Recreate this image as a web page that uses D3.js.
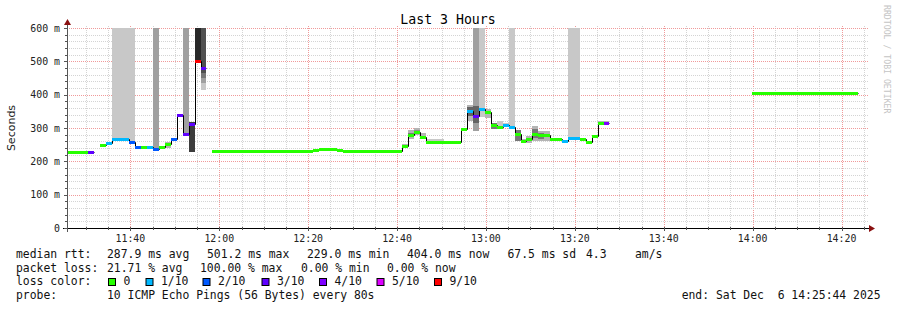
<!DOCTYPE html>
<html><head><meta charset="utf-8">
<script src="https://cdn.jsdelivr.net/npm/d3@7"></script>
<style>
body{margin:0;background:#fff}
text{font-family:"DejaVu Sans Mono",monospace;white-space:pre}
</style>
</head><body>
<svg id="chart" width="897" height="310"></svg>
<script>
// ---------- data ----------
const title = "Last 3 Hours";
const yLabel = "Seconds";
const rangeStart = "2025-12-06 11:25:44";
const rangeEnd = "2025-12-06 14:25:44";
const firstStep = "2025-12-06 11:25:07";
const stepSeconds = 80;

// median rtt per 80 s step (ms); null = no data
const median = [
  229,229,229,229,229, null,
  249,254,266,266,266,257,
  242,242,242,238,242,252,268,
  339,281,312,501,479, null,
  230,230,230,230,230,230,230,230,230,230,230,230,230,230,230,230,230,
  233, 236,236,236, 233,
  231,231,231,231,231,231,231,231,231,231,
  246,279,288,274,
  258,258,258,258,258,258,
  296,352,335,356,348,
  308,304,310,302,
  282,262,268,281,278,278,267,267,
  261,271,271,267,257,275,316,316,
  null,null,null,null,null,null,null,null,null,null,null,null,
  null,null,null,null,null,null,null,null,null,null,null,null,
  404,404,404,404,404,404,404,404,404,404,404,404,404,404,404,404,404,404,
  null,null
];
// lost pings (of 10) per step
const loss = [
  0,0,0,0,3, 10,
  0,1,1,1,1,2,
  2,0,1,2,0,0,2,
  3,3,3,9,3, 10,
  0,0,0,0,0,0,0,0,0,0,0,0,0,0,0,0,0,
  0, 0,0,0, 0,
  0,0,0,0,0,0,0,0,0,0,
  0,0,0,0,
  0,0,0,0,0,0,
  0,1,3,1,0,
  0,0,1,1,
  0,0,0,0,0,0,0,0,
  1,1,1,0,0,0,0,4,
  null,null,null,null,null,null,null,null,null,null,null,null,
  null,null,null,null,null,null,null,null,null,null,null,null,
  0,0,0,0,0,0,0,0,0,0,0,0,0,0,0,0,0,0,
  null,null
];
// smoke bands: [step, low ms, high ms, pings in band]
const smoke = [
  [6,244,252,5],
  [8,263,650,2],[9,263,650,2],[10,263,650,2],[11,262,650,2],
  [15,236,650,4],
  [17,240,258,3],
  [20,278,650,4],
  [21,229,319,9],
  [22,495,650,10],
  [23,414,434,2],[23,434,449,4],[23,449,465,6],[23,465,650,8],
  [57,241,251,3],
  [58,266,294,3],[58,272,286,6],
  [59,278,300,3],[59,283,293,5],
  [60,266,286,3],
  [61,256,268,2],[62,256,268,2],[63,256,266,2],
  [67,290,300,3],
  [68,322,370,3],[68,335,362,7],
  [69,292,650,4],[69,315,365,7],
  [70,334,650,2],
  [71,330,356,3],
  [72,298,316,6],
  [73,298,322,2],
  [74,304,316,2],
  [75,296,650,2],
  [76,262,294,6],
  [77,254,266,3],
  [78,256,276,3],
  [79,262,306,3],[79,270,298,6],
  [80,262,292,3],[80,268,285,6],
  [81,262,292,3],
  [85,266,650,2],[86,266,650,2],
  [90,308,322,3],[91,308,322,3]
];
const lossLevels = [0,1,2,3,4,5,9];
const lossLabels = ["0","1/10","2/10","3/10","4/10","5/10","9/10"];
const lossColors = ["#26ff00","#00b8ff","#0059ff","#5e00ff","#7e00ff","#dd00ff","#ff0000"];
const yTickValues = [0,100,200,300,400,500,600];
const statsRtt = ["median rtt:","287.9 ms avg","501.2 ms max","229.0 ms min","404.0 ms now","67.5 ms sd","4.3","am/s"];
const statsLoss = ["packet loss:","21.71 % avg","100.00 % max","0.00 % min","0.00 % now"];
const probeText = ["probe:","10 ICMP Echo Pings (56 Bytes) every 80s"];
const endText = "end: Sat Dec  6 14:25:44 2025";
const watermark = "RRDTOOL / TOBI OETIKER";

// ---------- layout ----------
const L = 67, R = 867, T = 28, B = 228;
const parse = d3.timeParse("%Y-%m-%d %H:%M:%S");
const t0 = parse(rangeStart), t1 = parse(rangeEnd), s0 = parse(firstStep);
const x = d3.scaleTime().domain([t0, t1]).range([L, R]);
const y = d3.scaleLinear().domain([0, 600]).range([B, T]);
const stepTime = k => new Date(s0.getTime() + k * stepSeconds * 1000);
const sx = k => Math.round(x(stepTime(k)));
const lossColor = l => {
  let c = lossColors[0];
  lossLevels.forEach((lv, i) => { if (l >= lv) c = lossColors[i]; });
  return c;
};
const smokeShade = d3.scaleLinear().domain([2, 10]).range(["#c8c8c8", "#282828"]).clamp(true);

const svg = d3.select("#chart");
svg.append("rect").attr("width", 897).attr("height", 310).attr("fill", "#fff");
svg.append("defs").append("clipPath").attr("id", "plot")
  .append("rect").attr("x", L + 1).attr("y", T).attr("width", R - L - 1).attr("height", B - T);

// ---------- grid ----------
const grid = svg.append("g");
const minorX = d3.timeMinute.every(5).range(t0, t1);
const majorX = d3.timeMinute.every(20).range(t0, t1);
grid.selectAll(".gx").data(minorX).join("line")
  .attr("x1", d => Math.round(x(d)) + 0.5).attr("x2", d => Math.round(x(d)) + 0.5)
  .attr("y1", T - 2).attr("y2", B)
  .attr("stroke", d => d.getMinutes() % 20 === 0 ? "#f09a9a" : "#d4d4d4")
  .attr("stroke-dasharray", "1,1");
const minorY = d3.range(20, 620, 20);
grid.selectAll(".gy").data(minorY).join("line")
  .attr("x1", L).attr("x2", R + 2)
  .attr("y1", d => Math.round(y(d)) + 0.5).attr("y2", d => Math.round(y(d)) + 0.5)
  .attr("stroke", d => d % 100 === 0 ? "#f09a9a" : "#d4d4d4")
  .attr("stroke-dasharray", "1,1");

// ---------- smoke ----------
const plot = svg.append("g").attr("clip-path", "url(#plot)");
plot.selectAll(".smoke").data(smoke).join("rect")
  .attr("shape-rendering", "crispEdges")
  .attr("x", d => sx(d[0]))
  .attr("width", d => sx(d[0] + 1) - sx(d[0]))
  .attr("y", d => Math.round(y(d[2])))
  .attr("height", d => Math.round(y(d[1])) - Math.round(y(d[2])))
  .attr("fill", d => smokeShade(d[3]));

// ---------- median line ----------
const pts = [];
median.forEach((v, k) => {
  if (v == null) { pts.push(null); return; }
  pts.push([sx(k) + 0.5, Math.round(y(v)) + 0.5]);
  pts.push([sx(k + 1) + 0.5, Math.round(y(v)) + 0.5]);
});
const line = d3.line().defined(d => d != null).x(d => d[0]).y(d => d[1]);
plot.append("path").attr("d", line(pts)).attr("fill", "none")
  .attr("stroke", "#000").attr("stroke-width", 1);
const segs = median.map((v, k) => ({k, v, l: loss[k]})).filter(d => d.v != null);
plot.selectAll(".seg").data(segs).join("rect")
  .attr("shape-rendering", "crispEdges")
  .attr("x", d => sx(d.k))
  .attr("width", d => sx(d.k + 1) - sx(d.k))
  .attr("y", d => Math.round(y(d.v)) - 1).attr("height", 3)
  .attr("fill", d => lossColor(d.l));

// ---------- axes ----------
const ax = svg.append("g");
ax.append("line").attr("x1", L - 4).attr("x2", R + 2).attr("y1", B + 0.5).attr("y2", B + 0.5)
  .attr("stroke", "#000");
ax.append("line").attr("x1", L + 0.5).attr("x2", L + 0.5).attr("y1", B + 4).attr("y2", T - 4)
  .attr("stroke", "#555");
ax.append("path").attr("d", `M${L - 3},${T - 3}L${L + 4},${T - 3}L${L + 0.5},${T - 9}Z`).attr("fill", "#8a1010");
ax.append("path").attr("d", `M${R + 2},${B - 3}L${R + 2},${B + 4}L${R + 8},${B + 0.5}Z`).attr("fill", "#8a1010");
ax.selectAll(".tx").data(minorX).join("line")
  .attr("x1", d => Math.round(x(d)) + 0.5).attr("x2", d => Math.round(x(d)) + 0.5)
  .attr("y1", B - 1).attr("y2", d => d.getMinutes() % 20 === 0 ? B + 3 : B + 2)
  .attr("stroke", "#555");
ax.selectAll(".ty").data(minorY.concat([0])).join("line")
  .attr("x1", d => d % 100 === 0 ? L - 3 : L - 2).attr("x2", L + 1)
  .attr("y1", d => Math.round(y(d)) + 0.5).attr("y2", d => Math.round(y(d)) + 0.5)
  .attr("stroke", "#555");

const fmt = d3.timeFormat("%H:%M");
ax.selectAll(".xl").data(majorX).join("text")
  .attr("x", d => x(d)).attr("y", 241.5).attr("text-anchor", "middle")
  .attr("font-size", "9.9px").attr("fill", "#222").text(d => fmt(d));
ax.selectAll(".yl").data(yTickValues).join("text")
  .attr("x", 60).attr("y", d => y(d) + 3.6).attr("text-anchor", "end")
  .attr("font-size", "9.9px").attr("fill", "#222").text(d => d === 0 ? "0" : d + " m");

// ---------- titles ----------
svg.append("text").attr("x", 448).attr("y", 23.5).attr("text-anchor", "middle")
  .attr("font-size", "13.2px").attr("fill", "#000").text(title);
svg.append("text").attr("transform", "translate(15,128) rotate(-90)").attr("text-anchor", "middle")
  .style("font-family", "'DejaVu Sans',sans-serif").attr("font-size", "11px").attr("fill", "#222").text(yLabel);
svg.append("text").attr("transform", "translate(884,5) rotate(90)")
  .attr("font-size", "8.2px").attr("fill", "#c4c4c4").text(watermark);

// ---------- legend ----------
const lg = svg.append("g").attr("font-size", "11.4px").attr("fill", "#111");
const rttX = [16, 107, 207, 307, 407, 507.5, 586, 635];
statsRtt.forEach((s, i) => lg.append("text").attr("x", rttX[i]).attr("y", 258).text(s));
const lossX = [16, 107, 200, 301, 387];
statsLoss.forEach((s, i) => lg.append("text").attr("x", lossX[i]).attr("y", 271.5).text(s));
lg.append("text").attr("x", 16).attr("y", 285.3).text("loss color:");
const swX = [108.5, 146, 203, 262, 319.5, 377, 434.5];
lossLabels.forEach((s, i) => {
  lg.append("rect").attr("x", swX[i]).attr("y", 278.5).attr("width", 7).attr("height", 7)
    .attr("fill", lossColors[i]).attr("stroke", "#000").attr("stroke-width", 1);
  lg.append("text").attr("x", swX[i] + 15).attr("y", 285.3).text(s);
});
lg.append("text").attr("x", 16).attr("y", 299).text(probeText[0]);
lg.append("text").attr("x", 107).attr("y", 299).text(probeText[1]);
lg.append("text").attr("x", 880.5).attr("y", 299).attr("text-anchor", "end").text(endText);
</script>
</body></html>
